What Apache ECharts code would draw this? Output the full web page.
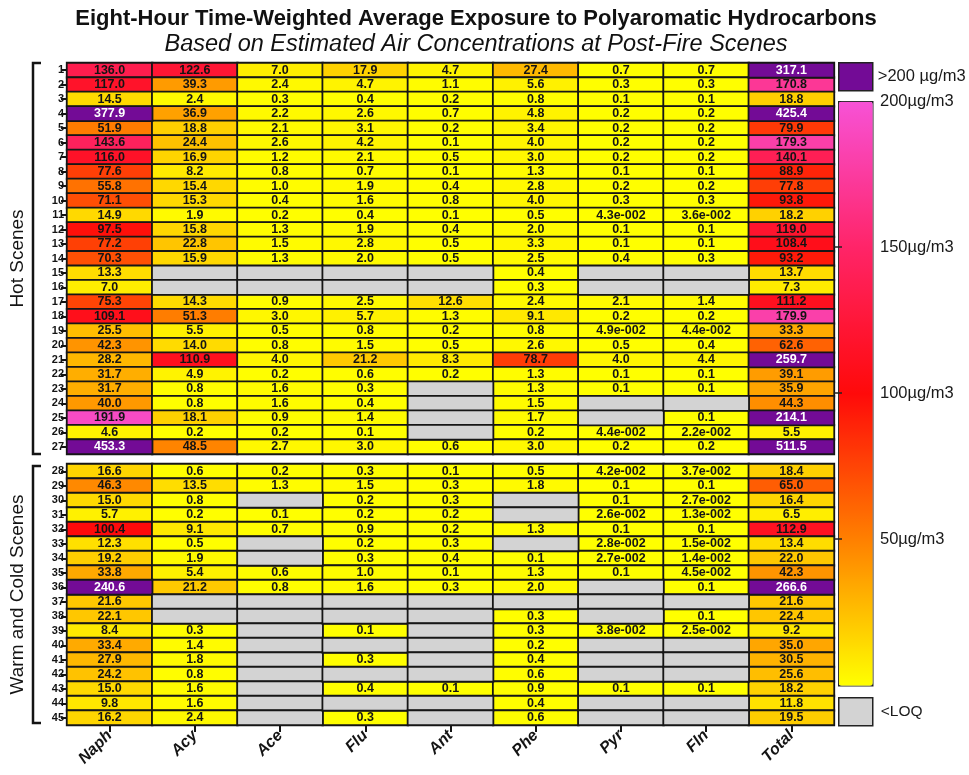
<!DOCTYPE html>
<html>
<head>
<meta charset="utf-8">
<script src="https://cdn.jsdelivr.net/npm/echarts@6/dist/echarts.min.js"></script>
<style>
  html, body { margin: 0; padding: 0; background: #fff; }
  #chart { width: 969px; height: 775px; }
</style>
</head>
<body>
<div id="chart"></div>
<script>
// PAH compounds (columns)
const compounds = ['Naph', 'Acy', 'Ace', 'Flu', 'Ant', 'Phe', 'Pyr', 'Fln', 'Total'];

// Scene numbers (rows)
const hotScenes = ['1','2','3','4','5','6','7','8','9','10','11','12','13','14','15','16','17','18','19','20','21','22','23','24','25','26','27'];
const warmColdScenes = ['28','29','30','31','32','33','34','35','36','37','38','39','40','41','42','43','44','45'];

// 8-h TWA exposures in µg/m3, scenes 1..45 in order; null = below limit of quantification
const naph = [136.0,117.0,14.5,377.9,51.9,143.6,116.0,77.6,55.8,71.1,14.9,97.5,77.2,70.3,13.3,7.0,75.3,109.1,25.5,42.3,28.2,31.7,31.7,40.0,191.9,4.6,453.3,
              16.6,46.3,15.0,5.7,100.4,12.3,19.2,33.8,240.6,21.6,22.1,8.4,33.4,27.9,24.2,15.0,9.8,16.2];
const acy  = [122.6,39.3,2.4,36.9,18.8,24.4,16.9,8.2,15.4,15.3,1.9,15.8,22.8,15.9,null,null,14.3,51.3,5.5,14.0,110.9,4.9,0.8,0.8,18.1,0.2,48.5,
              0.6,13.5,0.8,0.2,9.1,0.5,1.9,5.4,21.2,null,null,0.3,1.4,1.8,0.8,1.6,1.6,2.4];
const ace  = [7.0,2.4,0.3,2.2,2.1,2.6,1.2,0.8,1.0,0.4,0.2,1.3,1.5,1.3,null,null,0.9,3.0,0.5,0.8,4.0,0.2,1.6,1.6,0.9,0.2,2.7,
              0.2,1.3,null,0.1,0.7,null,null,0.6,0.8,null,null,null,null,null,null,null,null,null];
const flu  = [17.9,4.7,0.4,2.6,3.1,4.2,2.1,0.7,1.9,1.6,0.4,1.9,2.8,2.0,null,null,2.5,5.7,0.8,1.5,21.2,0.6,0.3,0.4,1.4,0.1,3.0,
              0.3,1.5,0.2,0.2,0.9,0.2,0.3,1.0,1.6,null,null,0.1,null,0.3,null,0.4,null,0.3];
const ant  = [4.7,1.1,0.2,0.7,0.2,0.1,0.5,0.1,0.4,0.8,0.1,0.4,0.5,0.5,null,null,12.6,1.3,0.2,0.5,8.3,0.2,null,null,null,null,0.6,
              0.1,0.3,0.3,0.2,0.2,0.3,0.4,0.1,0.3,null,null,null,null,null,null,0.1,null,null];
const phe  = [27.4,5.6,0.8,4.8,3.4,4.0,3.0,1.3,2.8,4.0,0.5,2.0,3.3,2.5,0.4,0.3,2.4,9.1,0.8,2.6,78.7,1.3,1.3,1.5,1.7,0.2,3.0,
              0.5,1.8,null,null,1.3,null,0.1,1.3,2.0,null,0.3,0.3,0.2,0.4,0.6,0.9,0.4,0.6];
const pyr  = [0.7,0.3,0.1,0.2,0.2,0.2,0.2,0.1,0.2,0.3,0.043,0.1,0.1,0.4,null,null,2.1,0.2,0.049,0.5,4.0,0.1,0.1,null,null,0.044,0.2,
              0.042,0.1,0.1,0.026,0.1,0.028,0.027,0.1,null,null,null,0.038,null,null,null,0.1,null,null];
const fln  = [0.7,0.3,0.1,0.2,0.2,0.2,0.2,0.1,0.2,0.3,0.036,0.1,0.1,0.3,null,null,1.4,0.2,0.044,0.4,4.4,0.1,0.1,null,0.1,0.022,0.2,
              0.037,0.1,0.027,0.013,0.1,0.015,0.014,0.045,0.1,null,0.1,0.025,null,null,null,0.1,null,null];
const total = [317.1,170.8,18.8,425.4,79.9,179.3,140.1,88.9,77.8,93.8,18.2,119.0,108.4,93.2,13.7,7.3,111.2,179.9,33.3,62.6,259.7,39.1,35.9,44.3,214.1,5.5,511.5,
               18.4,65.0,16.4,6.5,112.9,13.4,22.0,42.3,266.6,21.6,22.4,9.2,35.0,30.5,25.6,18.2,11.8,19.5];

// Colour scale limits and labelled bar values
const scaleMax = 200;
const scaleLabels = [50, 100, 150, 200];
const scaleTicks = [50, 100, 150];

const columns = [naph, acy, ace, flu, ant, phe, pyr, fln, total];
const FONT = '"Liberation Sans", Arial, Helvetica, sans-serif';
const INK = '#141414';
const PURPLE = '#730b96';
const GREY = '#d3d3d3';

function fmt(v) {
  if (v < 0.05) {
    const [m, e] = v.toExponential(1).split('e');
    const n = Math.abs(parseInt(e, 10));
    return m + 'e' + (e[0] === '-' ? '-' : '+') + String(n).padStart(3, '0');
  }
  return v.toFixed(1);
}

// split each group's cells into: on-scale, above scale, below LOQ
function buildCells(rowOffset, rowCount) {
  const scaled = [], above = [], loq = [];
  columns.forEach((col, c) => {
    for (let r = 0; r < rowCount; r++) {
      const v = col[rowOffset + r];
      if (v === null) loq.push([c, r, 0]);
      else if (v > scaleMax) above.push([c, r, v]);
      else scaled.push([c, r, v]);
    }
  });
  return { scaled, above, loq };
}

const hotCells = buildCells(0, hotScenes.length);
const wcCells = buildCells(hotScenes.length, warmColdScenes.length);

const cellBorder = { borderColor: '#161616', borderWidth: 1.8 };
const cellLabel = {
  show: true, fontFamily: FONT, fontWeight: 'bold', fontSize: 12.5, color: INK,
  formatter: p => fmt(p.value[2])
};

function groupSeries(cells, gi) {
  return [
    { type: 'heatmap', xAxisIndex: gi, yAxisIndex: gi, data: cells.scaled,
      itemStyle: cellBorder, label: cellLabel, emphasis: { disabled: true } },
    { type: 'heatmap', name: '>200 µg/m3', xAxisIndex: gi, yAxisIndex: gi, data: cells.above,
      itemStyle: Object.assign({ color: PURPLE }, cellBorder),
      label: Object.assign({}, cellLabel, { color: '#ffffff' }), emphasis: { disabled: true } },
    { type: 'heatmap', name: '<LOQ', xAxisIndex: gi, yAxisIndex: gi, data: cells.loq,
      itemStyle: Object.assign({ color: GREY }, cellBorder),
      label: { show: false }, emphasis: { disabled: true } }
  ];
}

const rowAxis = (data, name, gi) => ({
  type: 'category', gridIndex: gi, data: data, inverse: true,
  name: name, nameLocation: 'middle', nameGap: 40, nameRotate: 90,
  nameTextStyle: { fontFamily: FONT, fontSize: 19, color: INK },
  axisLine: { show: true, lineStyle: { color: INK, width: 2 } },
  axisTick: { show: true, alignWithLabel: true, length: 6, lineStyle: { color: INK, width: 2 } },
  axisLabel: { fontFamily: FONT, fontWeight: 'bold', fontSize: 11, color: INK, margin: 3 },
  splitLine: { show: false }, splitArea: { show: false }
});

const barAxis = (pos, showLabels) => ({
  type: 'value', gridIndex: 2, min: 0, max: scaleMax, position: pos, z: 10,
  axisLine: { show: false },
  axisTick: { show: true, inside: false, length: 4, customValues: scaleTicks,
    lineStyle: { color: '#222', width: 1.5 } },
  axisLabel: { show: showLabels, customValues: scaleLabels, margin: 8, fontFamily: FONT,
    fontSize: 16.5, color: '#1a1a1a', formatter: v => v + 'µg/m3' },
  splitLine: { show: false }
});

const chart = echarts.init(document.getElementById('chart'), null, { renderer: 'canvas' });

chart.setOption({
  animation: false,
  backgroundColor: '#ffffff',
  title: {
    text: 'Eight-Hour Time-Weighted Average Exposure to Polyaromatic Hydrocarbons',
    subtext: 'Based on Estimated Air Concentrations at Post-Fire Scenes',
    left: 471, top: 3, textAlign: 'center', itemGap: 3,
    textStyle: { fontFamily: FONT, fontWeight: 'bold', fontSize: 22, color: '#111' },
    subtextStyle: { fontFamily: FONT, fontStyle: 'italic', fontSize: 23.5, color: '#111' }
  },
  grid: [
    { left: 67, top: 63, width: 767, height: 391 },
    { left: 67, top: 464, width: 767, height: 261 },
    { left: 838, top: 101, width: 34, height: 584 }
  ],
  xAxis: [
    { type: 'category', gridIndex: 0, data: compounds, show: false },
    { type: 'category', gridIndex: 1, data: compounds,
      axisLine: { show: true, lineStyle: { color: INK, width: 2 } },
      axisTick: { show: true, alignWithLabel: true, length: 7, lineStyle: { color: INK, width: 2 } },
      axisLabel: { rotate: 45, margin: 8, fontFamily: FONT, fontWeight: 'bold', fontStyle: 'italic', fontSize: 16, color: INK },
      splitLine: { show: false } },
    { type: 'value', gridIndex: 2, show: false, min: 0, max: 1 }
  ],
  yAxis: [
    rowAxis(hotScenes, 'Hot Scenes', 0),
    rowAxis(warmColdScenes, 'Warm and Cold Scenes', 1),
    barAxis('right', true),
    barAxis('left', false)
  ],
  visualMap: {
    type: 'continuous', seriesIndex: [0, 3], min: 0, max: scaleMax,
    show: true, calculable: false, hoverLink: false,
    left: 838, top: 101, itemWidth: 34, itemHeight: 584, padding: 0,
    borderColor: '#222', borderWidth: 1.5,
    inRange: { color: ['#ffff00', '#ff8000', '#ff0a0a', '#ff2468', '#f752d6'] }
  },
  legend: [
    { data: ['>200 µg/m3'], left: 838, top: 62, padding: 0, orient: 'vertical', selectedMode: false,
      icon: 'rect', itemWidth: 34, itemHeight: 28, itemGap: 0,
      itemStyle: { borderColor: '#222', borderWidth: 1.5 },
      textStyle: { fontFamily: FONT, fontSize: 16.5, color: '#1a1a1a' } },
    { data: ['<LOQ'], left: 838, top: 697, padding: 0, orient: 'vertical', selectedMode: false,
      icon: 'rect', itemWidth: 34, itemHeight: 28, itemGap: 0,
      itemStyle: { borderColor: '#222', borderWidth: 1.5 },
      textStyle: { fontFamily: FONT, fontSize: 15.5, color: '#1a1a1a', padding: [0, 0, 0, 3] } }
  ],
  graphic: [
    { type: 'polyline', shape: { points: [[41, 63], [33, 63], [33, 454], [41, 454]] },
      style: { stroke: INK, lineWidth: 2.5, fill: null } },
    { type: 'polyline', shape: { points: [[41, 466], [33, 466], [33, 723], [41, 723]] },
      style: { stroke: INK, lineWidth: 2.5, fill: null } }
  ],
  series: [...groupSeries(hotCells, 0), ...groupSeries(wcCells, 1)]
});
</script>
</body>
</html>
